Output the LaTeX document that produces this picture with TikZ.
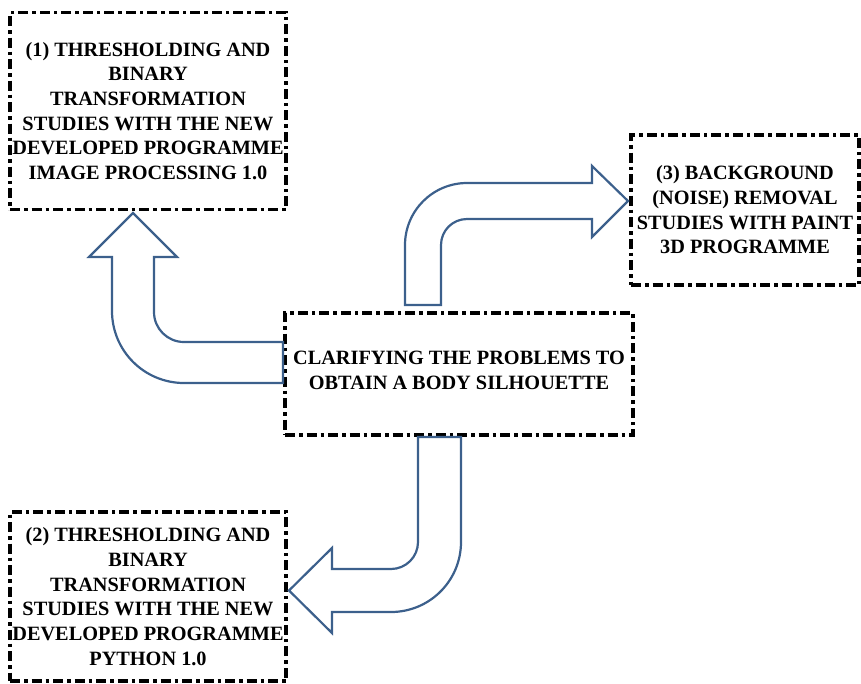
\documentclass[tikz,border=0pt]{standalone}
\usepackage{fontspec}
\setmainfont{Liberation Serif}
\definecolor{arrowblue}{RGB}{60,96,140}
\begin{document}
\begin{tikzpicture}[x=1pt,y=-1pt,
  stagebox/.style={draw=black, line width=3.4pt, dash pattern=on 10pt off 4pt on 3.5pt off 4pt,
    rectangle, inner sep=0pt, align=center, font=\fontsize{20.3}{24.7}\selectfont\bfseries},
  blockarrow/.style={draw=arrowblue, line width=2.2pt, fill=white, line join=miter}]
\useasboundingbox (0,0) rectangle (861,683);

\node[stagebox, minimum width=276pt, minimum height=197pt] (b1) at (148,111)
  {(1) THRESHOLDING AND\\BINARY\\TRANSFORMATION\\STUDIES WITH THE NEW\\DEVELOPED PROGRAMME\\IMAGE PROCESSING 1.0};
\node[stagebox, minimum width=228pt, minimum height=150pt] (b3) at (745,210)
  {(3) BACKGROUND\\(NOISE) REMOVAL\\STUDIES WITH PAINT\\3D PROGRAMME};
\node[stagebox, minimum width=348pt, minimum height=122pt] (c) at (459,374)
  {CLARIFYING THE PROBLEMS TO\\OBTAIN A BODY SILHOUETTE\\[-17pt]};
\node[stagebox, minimum width=276pt, minimum height=169pt] (b2) at (148,596.5)
  {(2) THRESHOLDING AND\\BINARY\\TRANSFORMATION\\STUDIES WITH THE NEW\\DEVELOPED PROGRAMME\\PYTHON 1.0};

% arrow from centre to box 1 (up-left)
\draw[blockarrow] (283,342) -- (184,342) .. controls (167.4,342) and (154,328.6) .. (154,312)
  -- (154,257) -- (177,257) -- (133,213) -- (89,257) -- (112,257) -- (112,311)
  .. controls (112,350.8) and (144.2,383) .. (184,383) -- (283,383) -- cycle;

% arrow from centre to box 3 (up-right)
\draw[blockarrow] (441,305) -- (441,245) .. controls (441,230.6) and (452.6,219) .. (467,219)
  -- (592,219) -- (592,237) -- (628,201) -- (592,166) -- (592,183) -- (467,183)
  .. controls (432.8,183) and (405,210.8) .. (405,245) -- (405,305) -- cycle;

% arrow from centre to box 2 (down-left)
\draw[blockarrow] (418,437) -- (418,542) .. controls (418,556.9) and (405.9,569) .. (391,569)
  -- (332,569) -- (332,548) -- (289,590.5) -- (332,633) -- (332,612) -- (391,612)
  .. controls (429.7,612) and (461,580.7) .. (461,542) -- (461,437) -- cycle;
\end{tikzpicture}
\end{document}
